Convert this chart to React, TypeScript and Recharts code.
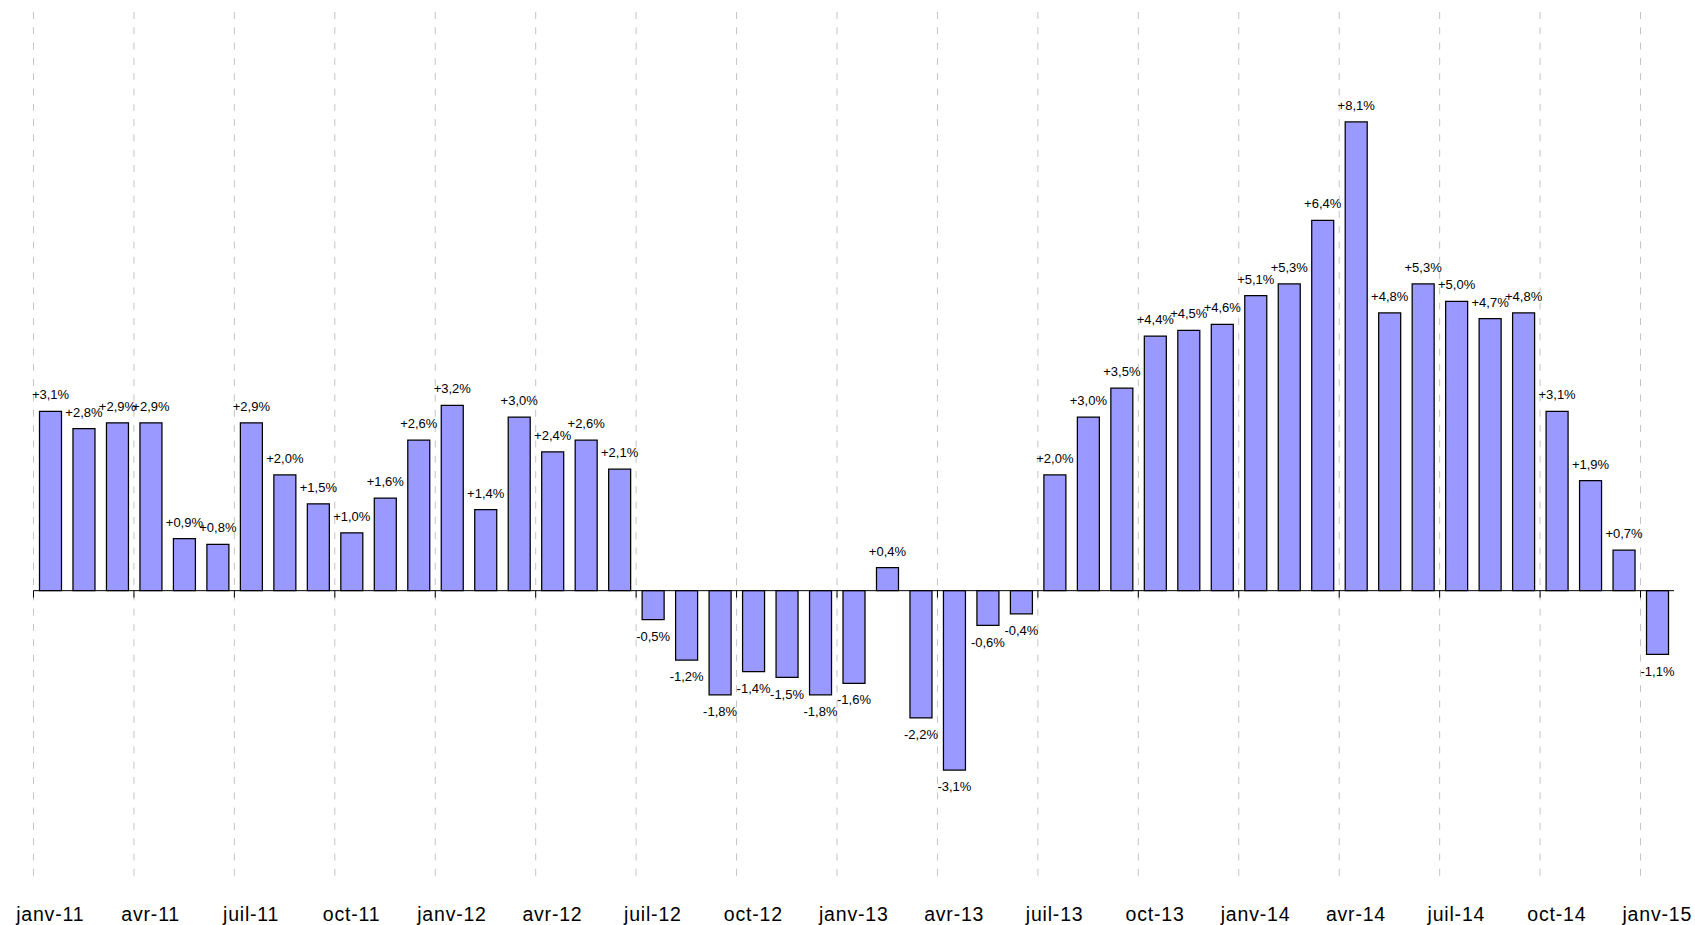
import React from "react";
import { BarChart, Bar, XAxis, YAxis, CartesianGrid, ReferenceLine, LabelList } from "recharts";

const categories: string[] = [
  "janv-11", "févr-11", "mars-11", "avr-11", "mai-11", "juin-11", "juil-11", "août-11", "sept-11", "oct-11", "nov-11", "déc-11",
  "janv-12", "févr-12", "mars-12", "avr-12", "mai-12", "juin-12", "juil-12", "août-12", "sept-12", "oct-12", "nov-12", "déc-12",
  "janv-13", "févr-13", "mars-13", "avr-13", "mai-13", "juin-13", "juil-13", "août-13", "sept-13", "oct-13", "nov-13", "déc-13",
  "janv-14", "févr-14", "mars-14", "avr-14", "mai-14", "juin-14", "juil-14", "août-14", "sept-14", "oct-14", "nov-14", "déc-14",
  "janv-15",
];

const values: number[] = [
  3.1, 2.8, 2.9, 2.9, 0.9, 0.8, 2.9, 2.0, 1.5, 1.0, 1.6, 2.6,
  3.2, 1.4, 3.0, 2.4, 2.6, 2.1, -0.5, -1.2, -1.8, -1.4, -1.5, -1.8,
  -1.6, 0.4, -2.2, -3.1, -0.6, -0.4, 2.0, 3.0, 3.5, 4.4, 4.5, 4.6,
  5.1, 5.3, 6.4, 8.1, 4.8, 5.3, 5.0, 4.7, 4.8, 3.1, 1.9, 0.7,
  -1.1,
];

const yDomain: [number, number] = [-5, 10];
const quarterBoundaries: number[] = categories.map((_, i) => i).filter((i) => i % 3 === 0);

const data = categories.map((c, i) => ({ month: c, idx: i, v: values[i] }));

const FONT = "'Liberation Sans', Arial, sans-serif";

const fmt = (v: any) => {
  const n = Number(v);
  return (n > 0 ? "+" : "") + n.toFixed(1).replace(".", ",") + "%";
};

const gridLine = (p: any) => {
  if (p.index >= quarterBoundaries.length) return <g key={`gl-${p.index}`} />;
  return (
    <line
      key={`gl-${p.index}`}
      x1={p.x1}
      y1={p.y1}
      x2={p.x2}
      y2={p.y2}
      stroke="#c4c4c4"
      strokeWidth={1}
      strokeDasharray="7 8.3"
    />
  );
};

export default function App() {
  return (
    <div style={{ position: "absolute", left: 0, top: 0, width: 1695, height: 925, background: "#fff" }}>
      <BarChart
        width={1695}
        height={925}
        data={data}
        margin={{ top: 12, right: 21, left: 33.5, bottom: 0 }}
        barSize={22}
      >
        <XAxis
          xAxisId="grid"
          type="number"
          dataKey="idx"
          domain={[0, categories.length]}
          ticks={quarterBoundaries}
          allowDataOverflow
          hide
        />
        <XAxis
          xAxisId="cat"
          dataKey="month"
          interval={2}
          axisLine={false}
          tickLine={false}
          tickSize={0}
          tickMargin={27}
          height={45}
          tick={{ fontSize: 19.5, fill: "#000", fontFamily: FONT, letterSpacing: 0.8 }}
        />
        <YAxis type="number" domain={yDomain} allowDataOverflow hide />
        <CartesianGrid
          xAxisId="grid"
          horizontal={false}
          syncWithTicks
          vertical={gridLine}
        />
        <Bar
          xAxisId="cat"
          dataKey="v"
          fill="#9999FF"
          stroke="#000"
          strokeWidth={1.25}
          isAnimationActive={false}
        >
          <LabelList
            dataKey="v"
            position="top"
            offset={12}
            formatter={fmt}
            style={{ fontSize: 13, fill: "#000", fontFamily: FONT }}
          />
        </Bar>
        <ReferenceLine xAxisId="cat" y={0} stroke="#000" strokeWidth={1} />
        {quarterBoundaries.map((b) => (
          <ReferenceLine
            key={b}
            xAxisId="grid"
            segment={[{ x: b, y: 0 }, { x: b, y: -0.12 }]}
            stroke="#000"
            strokeWidth={1}
          />
        ))}
      </BarChart>
    </div>
  );
}
